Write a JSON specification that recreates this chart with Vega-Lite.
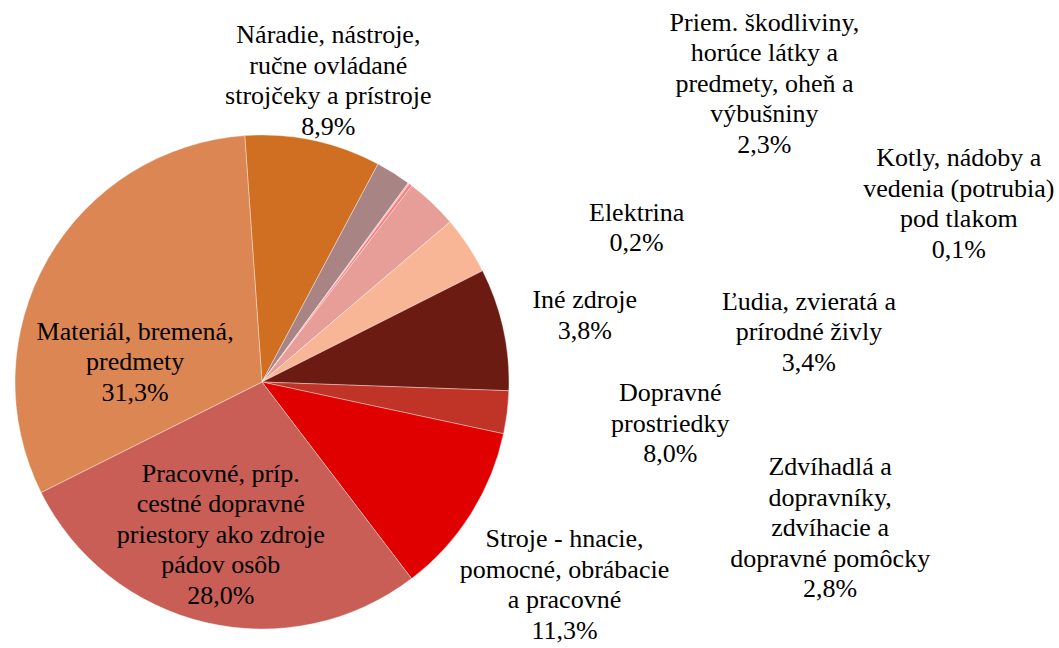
{
  "$schema": "https://vega.github.io/schema/vega-lite/v6.json",
  "autosize": "none",
  "width": 524,
  "height": 532,
  "padding": {"left": 0, "top": 116, "right": 535, "bottom": 0},
  "background": "white",
  "config": {"view": {"stroke": null}, "font": "Times New Roman, Liberation Serif, DejaVu Serif, serif", "text": {"font": "Times New Roman, Liberation Serif, DejaVu Serif, serif", "fontSize": 26, "lineHeight": 30.5, "color": "black", "lineBreak": "\n", "align": "center", "baseline": "middle"}},
  "data": {"values": [
    {"idx": 1, "category": "Náradie", "share": 8.9, "label": "Náradie, nástroje,\nručne ovládané\nstrojčeky a prístroje\n8,9%"},
    {"idx": 2, "category": "Priem. škodliviny", "share": 2.3, "label": "Priem. škodliviny,\nhorúce látky a\npredmety, oheň a\nvýbušniny\n2,3%"},
    {"idx": 3, "category": "Kotly", "share": 0.1, "label": "Kotly, nádoby a\nvedenia (potrubia)\npod tlakom\n0,1%"},
    {"idx": 4, "category": "Elektrina", "share": 0.2, "label": "Elektrina\n0,2%"},
    {"idx": 5, "category": "Ľudia", "share": 3.4, "label": "Ľudia, zvieratá a\nprírodné živly\n3,4%"},
    {"idx": 6, "category": "Iné zdroje", "share": 3.8, "label": "Iné zdroje\n3,8%"},
    {"idx": 7, "category": "Dopravné prostriedky", "share": 8.0, "label": "Dopravné\nprostriedky\n8,0%"},
    {"idx": 8, "category": "Zdvíhadlá", "share": 2.8, "label": "Zdvíhadlá a\ndopravníky,\nzdvíhacie a\ndopravné pomôcky\n2,8%"},
    {"idx": 9, "category": "Stroje", "share": 11.3, "label": "Stroje - hnacie,\npomocné, obrábacie\na pracovné\n11,3%"},
    {"idx": 10, "category": "Pracovné priestory", "share": 28.0, "label": "Pracovné, príp.\ncestné dopravné\npriestory ako zdroje\npádov osôb\n28,0%"},
    {"idx": 11, "category": "Materiál", "share": 31.3, "label": "Materiál, bremená,\npredmety\n31,3%"}
  ]},
  "encoding": {
    "theta": {"field": "share", "type": "quantitative", "stack": true, "scale": {"range": [-0.0698, 6.2134]}},
    "order": {"field": "idx", "type": "quantitative"}
  },
  "layer": [
    {
      "mark": {"type": "arc", "outerRadius": 247, "stroke": "#ffffff", "strokeWidth": 0.6, "strokeOpacity": 0.6},
      "encoding": {
        "color": {"field": "category", "type": "nominal", "legend": null, "scale": {
          "domain": ["Náradie", "Priem. škodliviny", "Kotly", "Elektrina", "Ľudia", "Iné zdroje", "Dopravné prostriedky", "Zdvíhadlá", "Stroje", "Pracovné priestory", "Materiál"],
          "range": ["#D06F22", "#A88584", "#E6B9B8", "#FF7C80", "#E89E98", "#F9B697", "#6C1B13", "#BF3426", "#E00000", "#C85E55", "#DC8654"]}}
      }
    },
    {"mark": {"type": "text", "font": "Times New Roman, Liberation Serif, DejaVu Serif, serif", "radius": 247, "dx": 15, "dy": -105},
     "encoding": {"text": {"condition": {"test": "datum.category === 'Náradie'", "field": "label"}, "value": ""}}},
    {"mark": {"type": "text", "font": "Times New Roman, Liberation Serif, DejaVu Serif, serif", "radius": 247, "dx": 371, "dy": -150},
     "encoding": {"text": {"condition": {"test": "datum.category === 'Priem. škodliviny'", "field": "label"}, "value": ""}}},
    {"mark": {"type": "text", "font": "Times New Roman, Liberation Serif, DejaVu Serif, serif", "radius": 247, "dx": 550, "dy": -25},
     "encoding": {"text": {"condition": {"test": "datum.category === 'Kotly'", "field": "label"}, "value": ""}}},
    {"mark": {"type": "text", "font": "Times New Roman, Liberation Serif, DejaVu Serif, serif", "radius": 247, "dx": 226, "dy": 28},
     "encoding": {"text": {"condition": {"test": "datum.category === 'Elektrina'", "field": "label"}, "value": ""}}},
    {"mark": {"type": "text", "font": "Times New Roman, Liberation Serif, DejaVu Serif, serif", "radius": 247, "dx": 377, "dy": 99},
     "encoding": {"text": {"condition": {"test": "datum.category === 'Ľudia'", "field": "label"}, "value": ""}}},
    {"mark": {"type": "text", "font": "Times New Roman, Liberation Serif, DejaVu Serif, serif", "radius": 247, "dx": 117, "dy": 55},
     "encoding": {"text": {"condition": {"test": "datum.category === 'Iné zdroje'", "field": "label"}, "value": ""}}},
    {"mark": {"type": "text", "font": "Times New Roman, Liberation Serif, DejaVu Serif, serif", "radius": 247, "dx": 167, "dy": 64},
     "encoding": {"text": {"condition": {"test": "datum.category === 'Dopravné prostriedky'", "field": "label"}, "value": ""}}},
    {"mark": {"type": "text", "font": "Times New Roman, Liberation Serif, DejaVu Serif, serif", "radius": 247, "dx": 323, "dy": 55},
     "encoding": {"text": {"condition": {"test": "datum.category === 'Zdvíhadlá'", "field": "label"}, "value": ""}}},
    {"mark": {"type": "text", "font": "Times New Roman, Liberation Serif, DejaVu Serif, serif", "radius": 247, "dx": 94, "dy": 25},
     "encoding": {"text": {"condition": {"test": "datum.category === 'Stroje'", "field": "label"}, "value": ""}}},
    {"mark": {"type": "text", "font": "Times New Roman, Liberation Serif, DejaVu Serif, serif", "radius": 160, "dx": -5, "dy": -64},
     "encoding": {"text": {"condition": {"test": "datum.category === 'Pracovné priestory'", "field": "label"}, "value": ""}}},
    {"mark": {"type": "text", "font": "Times New Roman, Liberation Serif, DejaVu Serif, serif", "radius": 130, "dx": -14, "dy": 14},
     "encoding": {"text": {"condition": {"test": "datum.category === 'Materiál'", "field": "label"}, "value": ""}}}
  ]
}
